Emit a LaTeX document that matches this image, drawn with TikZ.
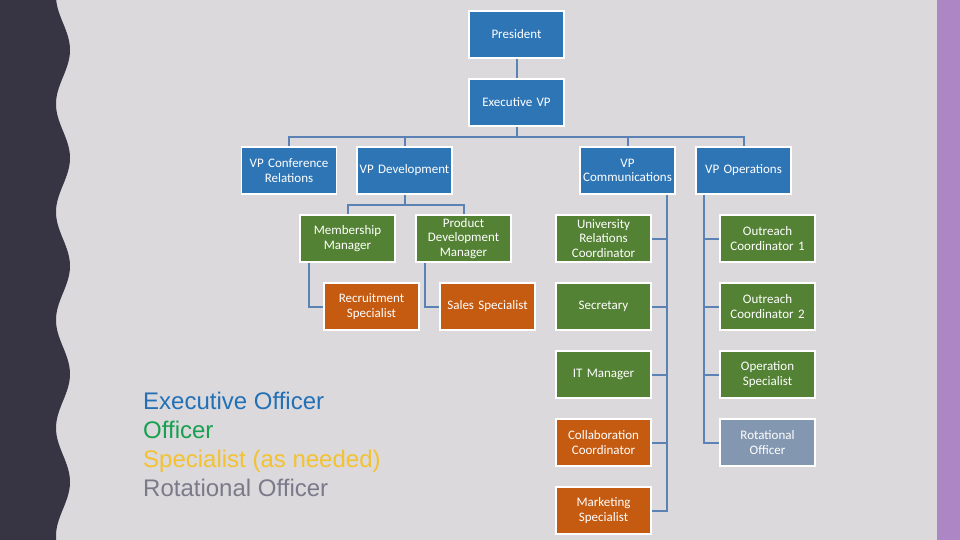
\documentclass[tikz,border=0pt]{standalone}
\usepackage{fontspec}
\newfontfamily\boxfont{Carlito}
\newfontfamily\legfont{Liberation Sans}
\hyphenpenalty=10000
\exhyphenpenalty=10000
\definecolor{bg}{HTML}{DCD9DC}
\definecolor{darkband}{HTML}{373444}
\definecolor{purpleband}{HTML}{AD87C5}
\definecolor{cblue}{HTML}{2E75B6}
\definecolor{cgreen}{HTML}{548235}
\definecolor{corange}{HTML}{C55A11}
\definecolor{cgray}{HTML}{8497B0}
\definecolor{linec}{HTML}{5B82B5}
\definecolor{legblue}{HTML}{2270B5}
\definecolor{leggreen}{HTML}{16A050}
\definecolor{legyellow}{HTML}{F2C230}
\definecolor{leggray}{HTML}{7A7A8A}
\tikzset{
  orgbox/.style={rectangle, draw=white, line width=1.5pt, minimum width=95pt, minimum height=47pt,
    text width=95pt, align=center, inner sep=0pt, text=white,
    font=\boxfont\fontsize{13}{14.5}\selectfont},
  exec/.style={orgbox, fill=cblue},
  offi/.style={orgbox, fill=cgreen},
  spec/.style={orgbox, fill=corange},
  rota/.style={orgbox, fill=cgray},
  conn/.style={draw=linec, line width=2pt},
  leg/.style={anchor=base west, inner sep=0pt, font=\legfont\fontsize{24}{28}\selectfont}
}
\begin{document}
\begin{tikzpicture}[x=1pt,y=-1pt]
\useasboundingbox (0,0) rectangle (960,540);
\fill[bg] (0,0) rectangle (960,540);
\fill[darkband] (0,0) -- plot[domain=0:540,samples=240] ({63+7*sin(10*(\x-23)/3)},\x) -- (0,540) -- cycle;
\fill[purpleband] (937,0) rectangle (960,540);

% connector junctions
\coordinate (b1) at (516.5,137);
\coordinate (b2) at (404.5,205);

% nodes
\node[exec] (pres) at (516.5,34.5) {President};
\node[exec] (evp) at (516.5,102.5) {Executive VP};
\node[exec] (vpc) at (289,170.5) {VP Conference\\Relations};
\node[exec] (vpd) at (404.5,170.5) {VP Development};
\node[exec] (vpco) at (627.5,170.5) {VP\\Communications};
\node[exec] (vpo) at (743.5,170.5) {VP Operations};
\node[offi] (mm) at (347.5,238.5) {Membership\\Manager};
\node[offi] (pdm) at (463.5,238.5) {Product\\Development\\Manager};
\node[spec] (rs) at (371.5,306.5) {Recruitment\\Specialist};
\node[spec] (ss) at (487.5,306.5) {Sales Specialist};
\node[offi] (urc) at (603.5,238.5) {University\\Relations\\Coordinator};
\node[offi] (sec) at (603.5,306.5) {Secretary};
\node[offi] (itm) at (603.5,374.5) {IT Manager};
\node[spec] (cc) at (603.5,442.5) {Collaboration\\Coordinator};
\node[spec] (ms) at (603.5,510.5) {Marketing\\Specialist};
\node[offi] (oc1) at (767.5,238.5) {Outreach\\Coordinator 1};
\node[offi] (oc2) at (767.5,306.5) {Outreach\\Coordinator 2};
\node[offi] (os) at (767.5,374.5) {Operation\\Specialist};
\node[rota] (ro) at (767.5,442.5) {Rotational\\Officer};

\coordinate (t1) at ([xshift=-9pt]vpco.south east);
\coordinate (t2) at ([xshift=9pt]vpo.south west);

% connectors
\draw[conn] (pres) -- (evp);
\draw[conn] (evp) -- (b1);
\draw[conn] (vpc.north) |- (b1);
\draw[conn] (vpd.north) |- (b1);
\draw[conn] (vpco.north) |- (b1);
\draw[conn] (vpo.north) |- (b1);
\draw[conn] (vpd) -- (b2);
\draw[conn] (mm.north) |- (b2);
\draw[conn] (pdm.north) |- (b2);
\draw[conn] ([xshift=10pt]mm.south west) |- (rs.west);
\draw[conn] ([xshift=10pt]pdm.south west) |- (ss.west);
\draw[conn] (t1) |- (ms.east);
\draw[conn] (urc.east) -- (urc.east -| t1);
\draw[conn] (sec.east) -- (sec.east -| t1);
\draw[conn] (itm.east) -- (itm.east -| t1);
\draw[conn] (cc.east) -- (cc.east -| t1);
\draw[conn] (t2) |- (ro.west);
\draw[conn] (oc1.west) -- (oc1.west -| t2);
\draw[conn] (oc2.west) -- (oc2.west -| t2);
\draw[conn] (os.west) -- (os.west -| t2);

% legend
\node[leg, text=legblue] (l1) at (143,409) {Executive Officer};
\node[leg, text=leggreen] (l2) at (143,438) {Officer};
\node[leg, text=legyellow] (l3) at (143,467) {Specialist (as needed)};
\node[leg, text=leggray] (l4) at (143,496) {Rotational Officer};
\end{tikzpicture}
\end{document}
